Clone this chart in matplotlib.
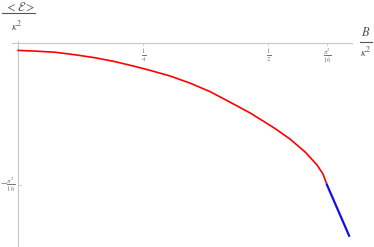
import numpy as np
import matplotlib.pyplot as plt

plt.rcParams['mathtext.fontset'] = 'stix'
plt.rcParams['font.family'] = 'Liberation Serif'

# values, B/kappa^2 and <E>/kappa^2
b_red = [0.0, 0.034, 0.074, 0.114, 0.154, 0.194, 0.234, 0.264, 0.303,
         0.343, 0.383, 0.423, 0.463, 0.483, 0.513, 0.543, 0.573, 0.597,
         0.609, np.pi**2 / 16]
e_red = [-0.031, -0.034, -0.039, -0.050, -0.063, -0.080, -0.101, -0.118,
         -0.142, -0.173, -0.210, -0.256, -0.303, -0.330, -0.371, -0.417,
         -0.473, -0.530, -0.570, -np.pi**2 / 16]
b_blue = [np.pi**2 / 16, 0.661]
e_blue = [-np.pi**2 / 16, -0.838]

xticks = [0.25, 0.5, np.pi**2 / 16]
xtick_labels = [r'$\frac{1}{4}$', r'$\frac{1}{2}$', r'$\frac{\pi^2}{16}$']
yticks = [-np.pi**2 / 16]
ytick_labels = [r'$-\frac{\pi^2}{16}$']

W, H = 374, 247
fig = plt.figure(figsize=(W / 100, H / 100), dpi=100)
ax = fig.add_axes([12 / W, 0, (353 - 12) / W, 1 - 41 / H])
ax.set_xlim(-0.012, 0.6687)
ax.set_ylim(-0.887, 0.010)
ax.axis('off')

grey = '#c8c8c8'
ax.axhline(0, color=grey, lw=0.8, zorder=1)
ax.axvline(0, color=grey, lw=0.8, zorder=1)

ax.plot(b_red, e_red, color='#ff0000', lw=1.2, zorder=3)
ax.plot(b_blue, e_blue, color='#1010ee', lw=1.6, zorder=3)

# ticks and their labels
for x, lab in zip(xticks, xtick_labels):
    ax.plot([x, x], [0, -0.008], color=grey, lw=0.6)
    ax.annotate(lab, (x, 0), xytext=(0, -2), textcoords='offset points',
                ha='center', va='top', fontsize=7, color='#777777')
for y, lab in zip(yticks, ytick_labels):
    ax.plot([0, 0.005], [y, y], color=grey, lw=0.6)
    ax.annotate(lab, (0, y), xytext=(-1.5, 0), textcoords='offset points',
                ha='right', va='center', fontsize=7, color='#777777')

# axis labels
fig.text(20 / W, 1 - 7 / H, r'$<\mathcal{E}>$', ha='center', va='center',
         fontsize=9, color='#555555')
fig.add_artist(plt.Line2D([2 / W, 35 / W], [1 - 13.5 / H, 1 - 13.5 / H],
                          color='#555555', lw=0.8))
fig.text(17 / W, 1 - 26 / H, r'$\kappa^2$', ha='center', va='center',
         fontsize=8, color='#555555')

fig.text(366 / W, 1 - 33 / H, r'$B$', ha='center', va='center',
         fontsize=9, color='#555555')
fig.add_artist(plt.Line2D([360 / W, 372 / W], [1 - 42 / H, 1 - 42 / H],
                          color='#555555', lw=0.8))
fig.text(366 / W, 1 - 52 / H, r'$\kappa^2$', ha='center', va='center',
         fontsize=8, color='#555555')

fig.savefig('out.png', dpi=100)
